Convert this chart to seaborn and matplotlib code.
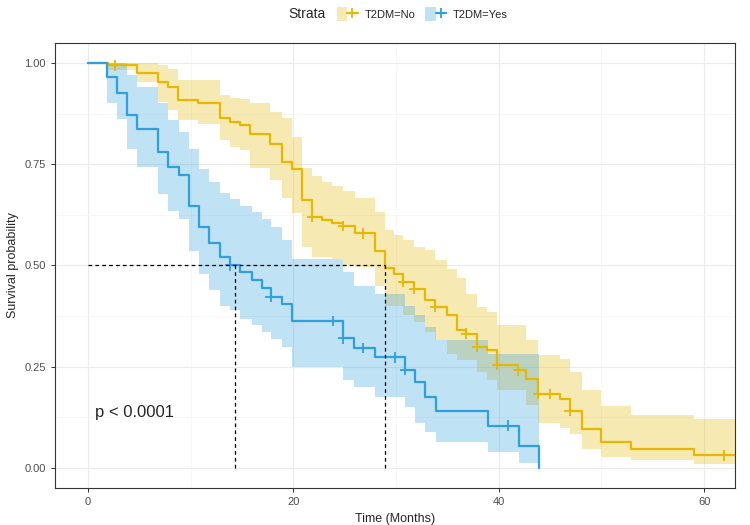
import numpy as np
import pandas as pd
import seaborn as sns
import matplotlib.pyplot as plt
from matplotlib.patches import Patch
from matplotlib.lines import Line2D
from matplotlib.legend_handler import HandlerTuple

# T2DM = No : step times, survival and 95% CI
no_time = [0, 1.98, 4.74, 6.85, 7.82, 8.79, 10.74, 12.85, 13.83, 14.8,
           15.77, 17.72, 18.86, 19.83, 20.81, 21.86, 22.83, 23.81, 24.86, 26.0,
           27.95, 28.92, 29.8, 30.7, 31.74, 32.81, 33.79, 34.93, 35.9, 36.8,
           37.85, 38.82, 39.8, 41.9, 42.7, 43.85, 45.96, 46.9, 48.07, 50.0,
           52.9, 59.0, 63.0]
no_surv = [1, 0.994, 0.975, 0.953, 0.941, 0.908, 0.90, 0.863, 0.854, 0.847,
           0.824, 0.80, 0.756, 0.739, 0.661, 0.620, 0.612, 0.605, 0.597, 0.579,
           0.537, 0.495, 0.48, 0.459, 0.443, 0.414, 0.397, 0.377, 0.34, 0.332,
           0.299, 0.291, 0.254, 0.241, 0.22, 0.182, 0.171, 0.142, 0.097, 0.064,
           0.048, 0.031, 0.031]
no_lower = [1, 0.982, 0.953, 0.904, 0.885, 0.86, 0.85, 0.809, 0.793, 0.785,
            0.74, 0.71, 0.666, 0.63, 0.546, 0.52, 0.52, 0.515, 0.50, 0.496,
            0.45, 0.40, 0.40, 0.377, 0.36, 0.336, 0.315, 0.282, 0.266, 0.266,
            0.237, 0.217, 0.192, 0.192, 0.155, 0.11, 0.10, 0.085, 0.048, 0.027,
            0.019, 0.009, 0.009]
no_upper = [1, 1, 1, 0.995, 0.985, 0.957, 0.957, 0.92, 0.913, 0.91,
            0.90, 0.88, 0.863, 0.817, 0.74, 0.72, 0.705, 0.695, 0.685, 0.666,
            0.632, 0.587, 0.575, 0.562, 0.546, 0.538, 0.513, 0.492, 0.468, 0.43,
            0.398, 0.385, 0.352, 0.352, 0.315, 0.278, 0.27, 0.237, 0.192, 0.152,
            0.132, 0.12, 0.12]
no_cens_t = [2.63, 21.86, 24.86, 26.8, 30.7, 31.74, 33.79, 36.8, 37.85, 39.8,
             41.9, 43.85, 45.0, 46.9, 61.9]
no_cens_s = [0.994, 0.62, 0.597, 0.579, 0.459, 0.443, 0.397, 0.332, 0.299, 0.254,
             0.241, 0.182, 0.182, 0.142, 0.031]

# T2DM = Yes
yes_time = [0, 1.82, 2.85, 3.83, 4.74, 6.85, 7.82, 8.86, 9.86, 10.84,
            11.81, 12.85, 13.83, 14.80, 15.94, 16.91, 17.79, 18.92, 19.89, 24.86,
            25.90, 27.95, 30.87, 31.84, 32.81, 33.89, 38.98, 42.0, 43.94]
yes_surv = [1, 0.965, 0.927, 0.871, 0.836, 0.780, 0.742, 0.723, 0.646, 0.595,
            0.556, 0.521, 0.500, 0.484, 0.463, 0.445, 0.422, 0.404, 0.363, 0.320,
            0.297, 0.273, 0.243, 0.212, 0.175, 0.142, 0.105, 0.054, 0.0]
yes_lower = [1, 0.90, 0.862, 0.787, 0.742, 0.677, 0.635, 0.615, 0.537, 0.48,
             0.44, 0.401, 0.39, 0.369, 0.352, 0.336, 0.319, 0.30, 0.25, 0.217,
             0.20, 0.176, 0.151, 0.11, 0.089, 0.065, 0.04, 0.012, 0.012]
yes_upper = [1, 1.0, 1.0, 0.97, 0.94, 0.90, 0.86, 0.83, 0.787, 0.738,
             0.705, 0.68, 0.664, 0.648, 0.631, 0.615, 0.594, 0.562, 0.516, 0.483,
             0.45, 0.43, 0.40, 0.377, 0.348, 0.315, 0.282, 0.282, 0.282]
yes_cens_t = [13.83, 17.79, 23.83, 24.86, 26.81, 29.89, 30.87, 40.87]
yes_cens_s = [0.50, 0.422, 0.363, 0.320, 0.297, 0.273, 0.243, 0.105]

median_no = 28.9
median_yes = 14.3
strata = ["T2DM=No", "T2DM=Yes"]
palette = {"T2DM=No": "#E7B800", "T2DM=Yes": "#2E9FDF"}

curves = pd.concat([
    pd.DataFrame({"time": no_time, "surv": no_surv, "lower": no_lower,
                  "upper": no_upper, "strata": strata[0]}),
    pd.DataFrame({"time": yes_time, "surv": yes_surv, "lower": yes_lower,
                  "upper": yes_upper, "strata": strata[1]}),
], ignore_index=True)
censors = pd.concat([
    pd.DataFrame({"time": no_cens_t, "surv": no_cens_s, "strata": strata[0]}),
    pd.DataFrame({"time": yes_cens_t, "surv": yes_cens_s, "strata": strata[1]}),
], ignore_index=True)

sns.set_theme(style="white")
plt.rcParams['font.family'] = ['Liberation Sans', 'DejaVu Sans']

fig = plt.figure(figsize=(7.5, 5.25), dpi=100)
ax = fig.add_axes([0.0733, 0.0699, 0.9067, 0.8488])

for s in strata:
    d = curves[curves.strata == s]
    ax.fill_between(d.time, d.lower, d.upper, step="post",
                    color=palette[s], alpha=0.3, lw=0, zorder=2)

sns.lineplot(data=curves, x="time", y="surv", hue="strata", palette=palette,
             estimator=None, sort=False, drawstyle="steps-post", lw=1.6,
             legend=False, ax=ax, zorder=3)
sns.scatterplot(data=censors, x="time", y="surv", hue="strata", palette=palette,
                marker="+", s=55, linewidth=1.3, legend=False, ax=ax, zorder=4)

# median survival lines
ax.plot([0, median_no], [0.5, 0.5], ls=(0, (3, 2.5)), color="black", lw=0.9, zorder=5)
ax.plot([median_yes, median_yes], [0, 0.5], ls=(0, (3, 2.5)), color="black", lw=0.9, zorder=5)
ax.plot([median_no, median_no], [0, 0.5], ls=(0, (3, 2.5)), color="black", lw=0.9, zorder=5)

ax.text(0.7, 0.137, "p < 0.0001", fontsize=12, va="center")

ax.set_xlim(-3.2, 63.0)
ax.set_ylim(-0.05, 1.05)
ax.set_xticks([0, 20, 40, 60])
ax.set_xticks([10, 30, 50], minor=True)
ax.set_yticks([0, 0.25, 0.5, 0.75, 1.0])
ax.set_yticklabels(["0.00", "0.25", "0.50", "0.75", "1.00"])
ax.set_yticks([0.125, 0.375, 0.625, 0.875], minor=True)
ax.grid(which="major", color="#EBEBEB", lw=0.8, zorder=0)
ax.grid(which="minor", color="#F4F4F4", lw=0.5, zorder=0)
ax.set_axisbelow(True)
ax.tick_params(which="major", bottom=True, left=True, length=3, width=0.7,
               color="#333333", labelcolor="#4D4D4D", labelsize=8)
ax.tick_params(which="minor", bottom=False, left=False)
for sp in ax.spines.values():
    sp.set_color("#333333")
    sp.set_linewidth(0.8)
ax.set_xlabel("Time (Months)", fontsize=9)
ax.set_ylabel("Survival probability", fontsize=9)

handles = [(Patch(facecolor=palette[s], alpha=0.3, lw=0),
            Line2D([], [], color=palette[s], lw=1.6, marker="+", markersize=7,
                   markeredgewidth=1.3)) for s in strata]
fig.text(0.385, 0.973, "Strata", fontsize=10, va="center")
fig.legend(handles, strata, loc="center", bbox_to_anchor=(0.563, 0.973), ncol=2,
           frameon=False, fontsize=8, handler_map={tuple: HandlerTuple(ndivide=None, pad=0)},
           handlelength=1.9, handleheight=1.5, columnspacing=0.9, handletextpad=0.6)

fig.savefig("out.png", dpi=100)
